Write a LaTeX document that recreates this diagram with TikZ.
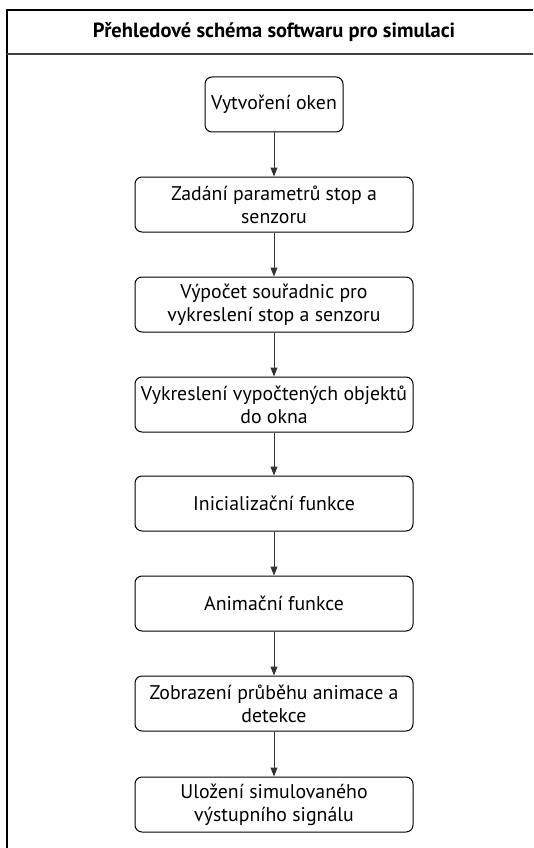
\documentclass[tikz,border=0pt]{standalone}
\usepackage{fontspec}
\setmainfont{PT Sans}
\usepackage{tikz}
\usetikzlibrary{arrows.meta}

\begin{document}
\begin{tikzpicture}[
  x=1pt, y=-1pt,
  font=\fontsize{19.8}{23}\selectfont,
  proc/.style={draw, rounded corners=7pt, align=center, minimum height=55pt,
               minimum width=278pt, line width=1pt, inner sep=1pt},
  ttl/.style={font=\fontsize{20.5}{22}\selectfont\bfseries},
  fl/.style={-{Triangle[length=9pt, width=7pt]}, line width=1pt, black!80},
]
  \useasboundingbox (0,0) rectangle (533,848);
  \clip (0,0) rectangle (533,848);

  %=================== frame + title ===================
  \draw[line width=1.5pt] (7,860) -- (7,10) -- (560,10) -- (560,860);
  \draw[line width=1.2pt, black!75] (7,54) -- (560,54);
  \node[ttl] (title) at (274,32) {Přehledové schéma softwaru pro simulaci};

  %=================== process steps ===================
  \node[proc, minimum width=138pt] (okna) at (274,104.5) {Vytvoření oken};
  \node[proc] (param) at (274,204.5) {Zadání parametrů stop a\\senzoru};
  \node[proc] (souradnice) at (274,304.5) {Výpočet souřadnic pro\\vykreslení stop a senzoru};
  \node[proc] (vykresleni) at (274,404.5) {Vykreslení vypočtených objektů\\do okna};
  \node[proc] (init) at (274,503.5) {Inicializační funkce};
  \node[proc] (anim) at (274,603.5) {Animační funkce};
  \node[proc] (zobrazeni) at (274,703.5) {Zobrazení průběhu animace a\\detekce};
  \node[proc] (ulozeni) at (274,804.5) {Uložení simulovaného\\výstupního signálu};

  %=================== connectors ===================
  \draw[fl] (okna) -- (param);
  \draw[fl] (param) -- (souradnice);
  \draw[fl] (souradnice) -- (vykresleni);
  \draw[fl] (vykresleni) -- (init);
  \draw[fl] (init) -- (anim);
  \draw[fl] (anim) -- (zobrazeni);
  \draw[fl] (zobrazeni) -- (ulozeni);
\end{tikzpicture}
\end{document}
